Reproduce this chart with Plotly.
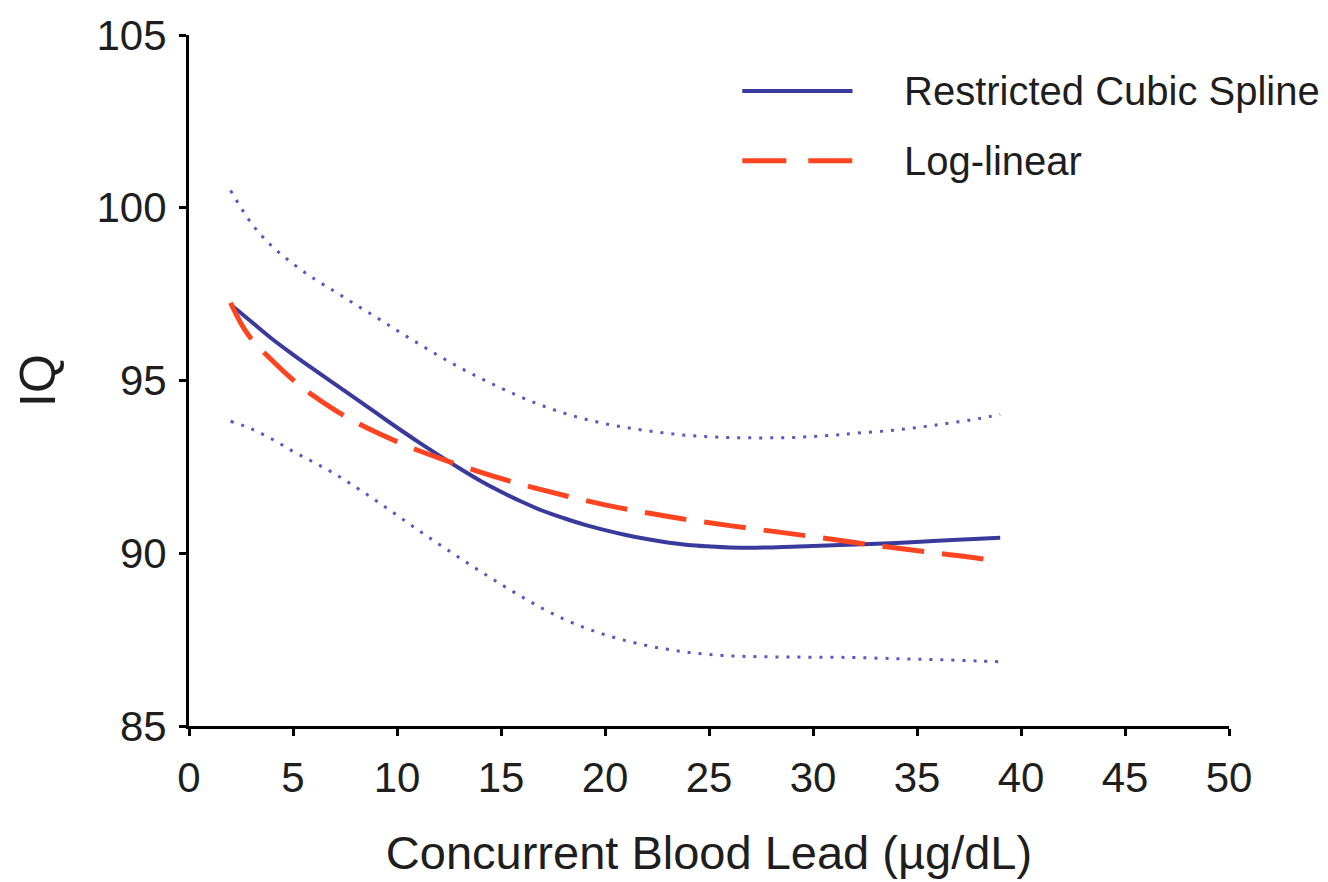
import plotly.graph_objects as go

# Restricted cubic spline estimate
spline_x = [2, 3, 4, 5, 6, 7, 8, 9, 10, 11, 12, 13, 14, 15, 16, 17, 18, 19, 20,
            21, 22, 23, 24, 25, 26, 27, 28, 29, 30, 32, 34, 36, 38, 39]
spline_y = [97.2, 96.7, 96.2, 95.75, 95.32, 94.9, 94.48, 94.06, 93.64, 93.23, 92.84, 92.46,
            92.1, 91.78, 91.49, 91.23, 91.02, 90.83, 90.67, 90.53, 90.41, 90.31, 90.24,
            90.2, 90.17, 90.16, 90.17, 90.19, 90.21, 90.25, 90.3, 90.36, 90.42, 90.45]

# Upper and lower 95% confidence limits of the spline
ci_x = [2, 3, 4, 5, 6, 7, 8, 9, 10, 11, 12, 13, 14, 15, 16, 17, 18, 19, 20,
        21, 22, 23, 24, 25, 26, 27, 28, 29, 30, 31, 32, 34, 36, 38, 39]
upper_y = [100.5, 99.55, 98.88, 98.38, 97.95, 97.58, 97.2, 96.83, 96.45, 96.08, 95.72, 95.38,
           95.07, 94.78, 94.51, 94.27, 94.06, 93.89, 93.75, 93.64, 93.55, 93.47, 93.41,
           93.37, 93.35, 93.34, 93.34, 93.35, 93.38, 93.42, 93.47, 93.57, 93.72, 93.9, 94.02]
lower_y = [93.82, 93.6, 93.3, 92.95, 92.63, 92.3, 91.92, 91.52, 91.1, 90.68, 90.27, 89.87,
           89.48, 89.1, 88.74, 88.4, 88.1, 87.85, 87.64, 87.47, 87.33, 87.22, 87.13,
           87.07, 87.03, 87.01, 87.0, 87.0, 86.99, 86.99, 86.98, 86.95, 86.92, 86.88, 86.86]

# Log-linear model
loglin_x = [2, 2.5, 3, 4, 5, 6, 7, 8, 9, 10, 11, 12, 14, 16, 18, 20, 22, 24, 26, 28,
            30, 32, 34, 36, 38, 39]
loglin_y = [97.25, 96.65, 96.2, 95.58, 95.02, 94.55, 94.15, 93.8, 93.5, 93.23, 92.98, 92.76,
            92.35, 91.99, 91.68, 91.4, 91.17, 90.97, 90.8, 90.64, 90.48, 90.31, 90.15,
            90.0, 89.85, 89.76]

x_ticks = [0, 5, 10, 15, 20, 25, 30, 35, 40, 45, 50]
y_ticks = [85, 90, 95, 100, 105]

legend_labels = ["Restricted Cubic Spline", "Log-linear"]

BLUE = "#3a3a9c"
RED = "#ff4421"
DOT = "#5858c0"
FONT = "Liberation Sans, Arial, sans-serif"
TXT = "#1e1e1e"

fig = go.Figure()
for ys in (upper_y, lower_y):
    fig.add_trace(go.Scatter(x=ci_x, y=ys, mode="lines",
                             line=dict(color=DOT, width=3, dash="3px,8px", shape="spline"),
                             showlegend=False, hoverinfo="skip"))
fig.add_trace(go.Scatter(x=spline_x, y=spline_y, mode="lines", name=legend_labels[0],
                         line=dict(color=BLUE, width=4, shape="spline"),
                         showlegend=False))
fig.add_trace(go.Scatter(x=loglin_x, y=loglin_y, mode="lines", name=legend_labels[1],
                         line=dict(color=RED, width=5, dash="42px,18px", shape="spline"),
                         showlegend=False))

# Manual legend (line samples + labels)
leg_x0, leg_x1, leg_tx = 0.532, 0.638, 0.686
leg_rows = [(0.919, BLUE, "solid", 4), (0.818, RED, "44px,22px", 5)]
for (yy, col, dash, w), label in zip(leg_rows, legend_labels):
    fig.add_shape(type="line", xref="paper", yref="paper", x0=leg_x0, x1=leg_x1,
                  y0=yy, y1=yy, line=dict(color=col, width=w, dash=dash))
    fig.add_annotation(xref="paper", yref="paper", x=leg_tx, y=yy, text=label,
                       showarrow=False, xanchor="left", yanchor="middle",
                       font=dict(family=FONT, size=40, color=TXT))

axis_common = dict(showline=True, linecolor="black", linewidth=3, ticks="outside",
                   ticklen=7, tickwidth=3, tickcolor="black", showgrid=False,
                   zeroline=False, tickfont=dict(family=FONT, size=42, color=TXT))

fig.update_layout(
    width=1328, height=882,
    margin=dict(l=189, r=99, t=34, b=154),
    plot_bgcolor="white", paper_bgcolor="white",
    xaxis=dict(range=[0, 50], tickvals=x_ticks, ticklabelstandoff=6, **axis_common,
               title=dict(text="Concurrent Blood Lead (µg/dL)", standoff=36,
                          font=dict(family=FONT, size=47, color=TXT))),
    yaxis=dict(range=[85, 105], tickvals=y_ticks, ticklabelstandoff=4, **axis_common,
               title=dict(text="IQ", standoff=26,
                          font=dict(family=FONT, size=50, color=TXT))),
)

fig.write_html("out.html")
